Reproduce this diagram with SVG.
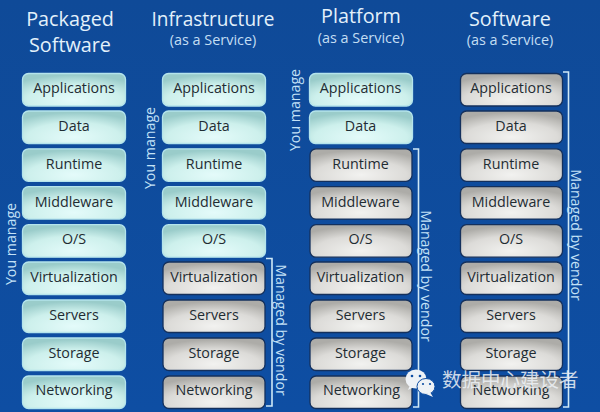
<svg xmlns="http://www.w3.org/2000/svg" width="600" height="412" viewBox="0 0 600 412">
<style>
text{font-family:"Open Sans","Noto Sans","Liberation Sans","Noto Sans CJK SC",sans-serif;text-anchor:middle}
.t{fill:#e3f1fb;font-size:19.800px}
.s{fill:#c3def3;font-size:14.400px}
.l{fill:#1f2c33;font-size:14.300px}
.v{fill:#c4e2f7;font-size:14.200px}
.c{fill:url(#teal);stroke:#b4e4ec;stroke-width:1.300}
.g{fill:url(#grey);stroke:#14305c;stroke-width:1.300}
.br{fill:none;stroke:#cfe9f7;stroke-width:1.600}
.wm{fill:#eef2f6;fill-opacity:.85;font-size:19.500px;text-anchor:start}
</style>
<defs>
<radialGradient id="teal" cx=".5" cy=".8" r=".75">
<stop offset="0" stop-color="#e4fbfa"/><stop offset=".6" stop-color="#cdf0ec"/><stop offset="1" stop-color="#9accca"/>
</radialGradient>
<radialGradient id="grey" cx=".5" cy=".8" r=".75">
<stop offset="0" stop-color="#f2f2f0"/><stop offset=".6" stop-color="#dcdbd8"/><stop offset="1" stop-color="#adaca8"/>
</radialGradient>
<linearGradient id="bg" x1="0" y1="0" x2="0" y2="1"><stop offset="0" stop-color="#0f4a98"/><stop offset="1" stop-color="#0e4ea3"/></linearGradient>
</defs>
<rect width="600" height="412" fill="url(#bg)"/>

<g id="headers">
<text class="t" x="70" y="26">Packaged</text><text class="t" x="70" y="52">Software</text>
<text class="t" x="213" y="26" textLength="123" lengthAdjust="spacingAndGlyphs">Infrastructure</text><text class="s" x="213" y="45">(as a Service)</text>
<text class="t" x="361" y="23">Platform</text><text class="s" x="361" y="43">(as a Service)</text>
<text class="t" x="510" y="26">Software</text><text class="s" x="510" y="45">(as a Service)</text>
</g>

<g id="col-packaged">
<g id="p1"><rect class="c" x="22.500" y="73.500" width="103" height="32.500" rx="6"/><text class="l" x="74" y="93">Applications</text></g>
<g id="p2"><rect class="c" x="22.500" y="111" width="103" height="32.500" rx="6"/><text class="l" x="74" y="131">Data</text></g>
<g id="p3"><rect class="c" x="22.500" y="148.800" width="103" height="32.500" rx="6"/><text class="l" x="74" y="169">Runtime</text></g>
<g id="p4"><rect class="c" x="22.500" y="186.600" width="103" height="32.500" rx="6"/><text class="l" x="74" y="207">Middleware</text></g>
<g id="p5"><rect class="c" x="22.500" y="224.700" width="103" height="32.500" rx="6"/><text class="l" x="74" y="244">O/S</text></g>
<g id="p6"><rect class="c" x="22.500" y="262" width="103" height="32.500" rx="6"/><text class="l" x="74" y="282">Virtualization</text></g>
<g id="p7"><rect class="c" x="22.500" y="300" width="103" height="32.500" rx="6"/><text class="l" x="74" y="320">Servers</text></g>
<g id="p8"><rect class="c" x="22.500" y="338" width="103" height="32.500" rx="6"/><text class="l" x="74" y="358">Storage</text></g>
<g id="p9"><rect class="c" x="22.500" y="376" width="103" height="32.500" rx="6"/><text class="l" x="74" y="395">Networking</text></g>
</g>

<g id="col-iaas">
<g id="i1"><rect class="c" x="162.500" y="73.500" width="103" height="32.500" rx="6"/><text class="l" x="214" y="93">Applications</text></g>
<g id="i2"><rect class="c" x="162.500" y="111" width="103" height="32.500" rx="6"/><text class="l" x="214" y="131">Data</text></g>
<g id="i3"><rect class="c" x="162.500" y="148.800" width="103" height="32.500" rx="6"/><text class="l" x="214" y="169">Runtime</text></g>
<g id="i4"><rect class="c" x="162.500" y="186.600" width="103" height="32.500" rx="6"/><text class="l" x="214" y="207">Middleware</text></g>
<g id="i5"><rect class="c" x="162.500" y="224.700" width="103" height="32.500" rx="6"/><text class="l" x="214" y="244">O/S</text></g>
<g id="i6"><rect class="g" x="163" y="262" width="102" height="32.500" rx="6"/><text class="l" x="214" y="282">Virtualization</text></g>
<g id="i7"><rect class="g" x="163" y="300" width="102" height="32.500" rx="6"/><text class="l" x="214" y="320">Servers</text></g>
<g id="i8"><rect class="g" x="163" y="338" width="102" height="32.500" rx="6"/><text class="l" x="214" y="358">Storage</text></g>
<g id="i9"><rect class="g" x="163" y="376" width="102" height="32.500" rx="6"/><text class="l" x="214" y="395">Networking</text></g>
</g>

<g id="col-paas">
<g id="a1"><rect class="c" x="309.500" y="73.500" width="103" height="32.500" rx="6"/><text class="l" x="360.500" y="93">Applications</text></g>
<g id="a2"><rect class="c" x="309.500" y="111" width="103" height="32.500" rx="6"/><text class="l" x="360.500" y="131">Data</text></g>
<g id="a3"><rect class="g" x="310" y="148.800" width="102" height="32.500" rx="6"/><text class="l" x="360.500" y="169">Runtime</text></g>
<g id="a4"><rect class="g" x="310" y="186.600" width="102" height="32.500" rx="6"/><text class="l" x="360.500" y="207">Middleware</text></g>
<g id="a5"><rect class="g" x="310" y="224.700" width="102" height="32.500" rx="6"/><text class="l" x="360.500" y="244">O/S</text></g>
<g id="a6"><rect class="g" x="310" y="262" width="102" height="32.500" rx="6"/><text class="l" x="360.500" y="282">Virtualization</text></g>
<g id="a7"><rect class="g" x="310" y="300" width="102" height="32.500" rx="6"/><text class="l" x="360.500" y="320">Servers</text></g>
<g id="a8"><rect class="g" x="310" y="338" width="102" height="32.500" rx="6"/><text class="l" x="360.500" y="358">Storage</text></g>
<g id="a9"><rect class="g" x="310" y="376" width="102" height="32.500" rx="6"/><text class="l" x="361.500" y="395">Networking</text></g>
</g>

<g id="col-saas">
<g id="s1"><rect class="g" x="460.500" y="73.500" width="102" height="32.500" rx="6"/><text class="l" x="511" y="93">Applications</text></g>
<g id="s2"><rect class="g" x="460.500" y="111" width="102" height="32.500" rx="6"/><text class="l" x="511" y="131">Data</text></g>
<g id="s3"><rect class="g" x="460.500" y="148.800" width="102" height="32.500" rx="6"/><text class="l" x="511" y="169">Runtime</text></g>
<g id="s4"><rect class="g" x="460.500" y="186.600" width="102" height="32.500" rx="6"/><text class="l" x="511" y="207">Middleware</text></g>
<g id="s5"><rect class="g" x="460.500" y="224.700" width="102" height="32.500" rx="6"/><text class="l" x="511" y="244">O/S</text></g>
<g id="s6"><rect class="g" x="460.500" y="262" width="102" height="32.500" rx="6"/><text class="l" x="511" y="282">Virtualization</text></g>
<g id="s7"><rect class="g" x="460.500" y="300" width="102" height="32.500" rx="6"/><text class="l" x="511" y="320">Servers</text></g>
<g id="s8"><rect class="g" x="460.500" y="338" width="102" height="32.500" rx="6"/><text class="l" x="511" y="358">Storage</text></g>
<g id="s9"><rect class="g" x="460.500" y="376" width="102" height="32.500" rx="6"/><text class="l" x="511" y="395">Networking</text></g>
</g>

<g id="connectors">
<path class="br" d="M266 258.500H272V406H266"/>
<path class="br" d="M413 149H418.500V407H413"/>
<path class="br" d="M563 72H568.500V407H563"/>
</g>

<g id="side-labels">
<text class="v" transform="translate(16 244) rotate(-90)">You manage</text>
<text class="v" transform="translate(155 148) rotate(-90)">You manage</text>
<text class="v" transform="translate(300 110) rotate(-90)">You manage</text>
<text class="v" transform="translate(276 330) rotate(90)">Managed by vendor</text>
<text class="v" transform="translate(421 276) rotate(90)">Managed by vendor</text>
<text class="v" transform="translate(571 235) rotate(90)">Managed by vendor</text>
</g>

<g id="watermark">
<ellipse cx="416" cy="379" rx="10.500" ry="9.500" fill="#eef2f6"/>
<ellipse cx="426" cy="386.500" rx="9" ry="8" fill="#eef2f6" stroke="#0e4ea3" stroke-width="1"/>
<path d="M410 385l-2 5 6-3zM430 392l3 5-7-3z" fill="#eef2f6"/>
<circle cx="412" cy="376" r="1.300" fill="#0e4ea3"/><circle cx="420" cy="376" r="1.300" fill="#0e4ea3"/>
<circle cx="423" cy="384" r="1.100" fill="#0e4ea3"/><circle cx="430" cy="384" r="1.100" fill="#0e4ea3"/>
<text class="wm" x="442" y="387">数据中心建设者</text>
</g>
</svg>
